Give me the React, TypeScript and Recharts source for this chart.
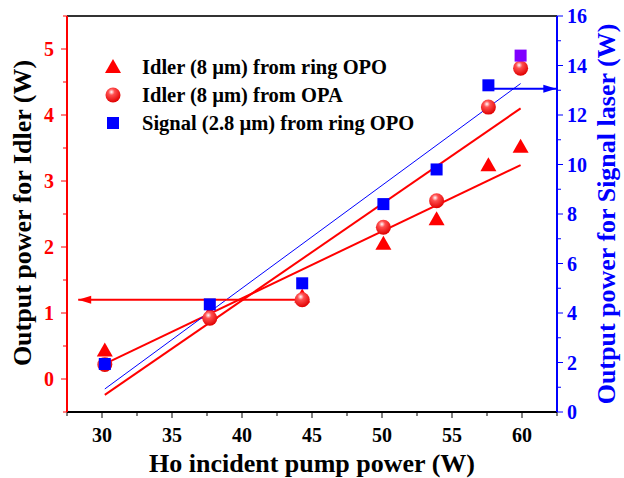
import React from 'react';
import { ComposedChart, XAxis, YAxis, Scatter, Line, ReferenceLine, Cell } from 'recharts';

// ---- data ----
const pumpPower = [30.2, 37.7, 44.3, 50.1, 53.9, 57.6, 59.9];
const idlerRingOPO = [0.43, 1.0, 1.25, 2.05, 2.42, 3.24, 3.52];
const idlerOPA = [0.22, 0.92, 1.2, 2.3, 2.7, 4.12, 4.71];
const signalRingOPO = [1.94, 4.35, 5.2, 8.4, 9.8, 13.2, 14.4];

const fitX = [30.2, 59.9];
const fitIdlerRing = [0.23, 3.24];
const fitIdlerOPA = [-0.24, 4.1];
const fitSignal = [0.93, 13.27];

const idlerArrowX = [44.3, 28.3];
const idlerArrowY = [1.2, 1.2];
const signalArrowX = [57.6, 62.45];
const signalArrowY = [13.06, 13.06];

const xTicks = [27.5, 30, 32.5, 35, 37.5, 40, 42.5, 45, 47.5, 50, 52.5, 55, 57.5, 60, 62.5];
const xLabels = [30, 35, 40, 45, 50, 55, 60];
const leftTicks = [-0.5, 0, 0.5, 1, 1.5, 2, 2.5, 3, 3.5, 4, 4.5, 5, 5.5];
const leftLabels = [0, 1, 2, 3, 4, 5];
const rightTicks = [0, 1, 2, 3, 4, 5, 6, 7, 8, 9, 10, 11, 12, 13, 14, 15, 16];
const rightLabels = [0, 2, 4, 6, 8, 10, 12, 14, 16];

const legendLabels = [
  'Idler (8 \u00b5m) from ring OPO',
  'Idler (8 \u00b5m) from OPA',
  'Signal (2.8 \u00b5m) from ring OPO',
];

const pts = (xs: number[], ys: number[]) => xs.map((x, i) => ({ x, y: ys[i] }));

const FONT = "'Liberation Serif', 'Times New Roman', serif";
const RED = '#ff0000';
const BLUE = '#0000ff';
const PURPLE = '#8000ff';

const XTick = (props: any) => {
  const { x, y, payload } = props;
  const v = payload.value;
  const major = xLabels.includes(v);
  return (
    <g>
      <line x1={x} y1={y} x2={x} y2={y + (major ? 6 : 4)} stroke="#000" strokeWidth={1} />
      {major && (
        <text x={x} y={y + 30} textAnchor="middle" fontFamily={FONT} fontWeight="bold" fontSize={20} fill="#000">
          {v}
        </text>
      )}
    </g>
  );
};

const LeftTick = (props: any) => {
  const { x, y, payload } = props;
  const v = payload.value;
  const major = leftLabels.includes(v);
  return (
    <g>
      <line x1={x} y1={y} x2={x - (major ? 6 : 4)} y2={y} stroke={RED} strokeWidth={1} />
      {major && (
        <text x={x - 13} y={y + 7} textAnchor="end" fontFamily={FONT} fontWeight="bold" fontSize={20} fill={RED}>
          {v}
        </text>
      )}
    </g>
  );
};

const RightTick = (props: any) => {
  const { x, y, payload } = props;
  const v = payload.value;
  const major = rightLabels.includes(v);
  return (
    <g>
      <line x1={x} y1={y} x2={x + (major ? 6 : 4)} y2={y} stroke={BLUE} strokeWidth={1} />
      {major && (
        <text x={x + 10} y={y + 7} textAnchor="start" fontFamily={FONT} fontWeight="bold" fontSize={20} fill={BLUE}>
          {v}
        </text>
      )}
    </g>
  );
};

const Triangle = (props: any) => {
  const { cx, cy } = props;
  return <polygon points={`${cx},${cy - 8} ${cx + 8},${cy + 6} ${cx - 8},${cy + 6}`} fill={RED} />;
};

const Ball = (props: any) => {
  const { cx, cy } = props;
  return (
    <g>
      <defs>
        <radialGradient id="ballGrad" cx="0.4" cy="0.3" r="0.7">
          <stop offset="0" stopColor="#ffffff" />
          <stop offset="0.3" stopColor="#ff5050" />
          <stop offset="1" stopColor="#e00000" />
        </radialGradient>
      </defs>
      <circle cx={cx} cy={cy} r={7.5} fill="url(#ballGrad)" />
    </g>
  );
};

const Square = (props: any) => {
  const { cx, cy, fill } = props;
  return <rect x={cx - 6} y={cy - 6} width={12} height={12} fill={fill || BLUE} />;
};

const arrowDot = (dir: number, color: string) => (props: any) => {
  const { cx, cy, index } = props;
  if (index !== 1) return <g key={`d${index}`} />;
  return (
    <polygon
      key={`d${index}`}
      points={`${cx},${cy} ${cx - dir * 13},${cy - 4} ${cx - dir * 13},${cy + 4}`}
      fill={color}
    />
  );
};

export default function App() {
  const triData = pts(pumpPower, idlerRingOPO);
  const opaData = pts(pumpPower, idlerOPA);
  const sigData = pts(pumpPower, signalRingOPO);
  return (
    <div style={{ position: 'absolute', left: 0, top: 0, width: 624, height: 478, background: '#fff' }}>
      <ComposedChart width={624} height={478} margin={{ top: 16, right: 0, bottom: 0, left: 0 }}>
        <XAxis
          type="number"
          dataKey="x"
          domain={[27.5, 62.5]}
          ticks={xTicks}
          interval={0}
          height={66}
          tick={XTick}
          tickLine={false}
          tickSize={0}
          tickMargin={0}
          axisLine={{ stroke: '#000', strokeWidth: 2 }}
          allowDataOverflow
        />
        <YAxis
          yAxisId="left"
          type="number"
          domain={[-0.5, 5.5]}
          ticks={leftTicks}
          interval={0}
          width={67}
          tick={LeftTick}
          tickLine={false}
          tickSize={0}
          tickMargin={0}
          axisLine={{ stroke: RED, strokeWidth: 2 }}
          allowDataOverflow
        />
        <YAxis
          yAxisId="right"
          orientation="right"
          type="number"
          domain={[0, 16]}
          ticks={rightTicks}
          interval={0}
          width={67}
          tick={RightTick}
          tickLine={false}
          tickSize={0}
          tickMargin={0}
          axisLine={{ stroke: BLUE, strokeWidth: 2 }}
          allowDataOverflow
        />
        <ReferenceLine yAxisId="left" y={5.5} stroke="#333" strokeWidth={2} />

        <Line yAxisId="left" data={pts(fitX, fitIdlerRing)} dataKey="y" stroke={RED} strokeWidth={2} dot={false} isAnimationActive={false} />
        <Line yAxisId="left" data={pts(fitX, fitIdlerOPA)} dataKey="y" stroke={RED} strokeWidth={2} dot={false} isAnimationActive={false} />
        <Line yAxisId="right" data={pts(fitX, fitSignal)} dataKey="y" stroke={BLUE} strokeWidth={1} dot={false} isAnimationActive={false} />

        <Line yAxisId="left" data={pts(idlerArrowX, idlerArrowY)} dataKey="y" stroke={RED} strokeWidth={2} dot={arrowDot(-1, RED)} isAnimationActive={false} />
        <Line yAxisId="right" data={pts(signalArrowX, signalArrowY)} dataKey="y" stroke={BLUE} strokeWidth={2} dot={arrowDot(1, BLUE)} isAnimationActive={false} />

        <Scatter yAxisId="left" data={triData} dataKey="y" shape={Triangle} isAnimationActive={false} />
        <Scatter yAxisId="left" data={opaData} dataKey="y" shape={Ball} isAnimationActive={false} />
        <Scatter yAxisId="right" data={sigData} dataKey="y" shape={Square} isAnimationActive={false}>
          {sigData.map((d, i) => (
            <Cell key={i} fill={i === sigData.length - 1 ? PURPLE : BLUE} />
          ))}
        </Scatter>
      </ComposedChart>

      <svg
        width={624}
        height={478}
        style={{ position: 'absolute', left: 0, top: 0, pointerEvents: 'none' }}
        fontFamily={FONT}
        fontWeight="bold"
      >
        <defs>
          <radialGradient id="legBall" cx="0.4" cy="0.3" r="0.7">
            <stop offset="0" stopColor="#ffffff" />
            <stop offset="0.3" stopColor="#ff5050" />
            <stop offset="1" stopColor="#e00000" />
          </radialGradient>
        </defs>
        <polygon points="113,59 121,73 105,73" fill={RED} />
        <circle cx={113} cy={95} r={7.5} fill="url(#legBall)" />
        <rect x={107} y={117} width={12} height={12} fill={BLUE} />
        {legendLabels.map((t, i) => (
          <text key={t} x={142} y={74 + i * 28} fontSize={20.5} fill="#000">
            {t}
          </text>
        ))}
        <text x={312} y={472} textAnchor="middle" fontSize={26} fill="#000">
          Ho incident pump power (W)
        </text>
        <text x={31} y={213} textAnchor="middle" fontSize={26} fill="#000" transform="rotate(-90 31 213)">
          Output power for Idler (W)
        </text>
        <text x={615} y={214} textAnchor="middle" fontSize={26} fill={BLUE} transform="rotate(-90 615 214)">
          Output power for Signal laser (W)
        </text>
      </svg>
    </div>
  );
}
